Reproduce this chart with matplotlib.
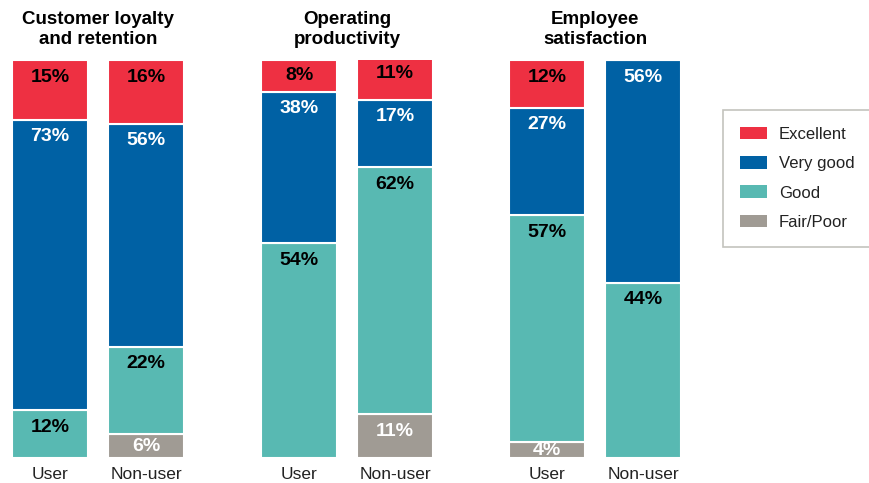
import matplotlib.pyplot as plt
from matplotlib.patches import Patch

plt.rcParams['font.family'] = ['Liberation Sans', 'DejaVu Sans']

# === Daten ===
groups = ["Customer loyalty\nand retention", "Operating\nproductivity", "Employee\nsatisfaction"]
bar_names = ["User", "Non-user"]
levels = ["Excellent", "Very good", "Good", "Fair/Poor"]

# Werte je Balken, Reihenfolge: Fair/Poor, Good, Very good, Excellent (von unten)
fair_poor = [0, 6, 0, 11, 4, 0]
good = [12, 22, 54, 62, 57, 44]
very_good = [73, 56, 38, 17, 27, 56]
excellent = [15, 16, 8, 11, 12, 0]

colors = {"Excellent": "#EE3042", "Very good": "#0061A4", "Good": "#58B9B2", "Fair/Poor": "#A09B94"}
text_col = {"Excellent": "black", "Very good": "white", "Good": "black", "Fair/Poor": "white"}

# === Layout ===
W, H = 869, 483
fig = plt.figure(figsize=(W / 100, H / 100), dpi=100)
ax = fig.add_axes([0, 25 / H, 1, 398 / H])
ax.set_xlim(0, W / 100)
ax.set_ylim(0, 100)
ax.axis('off')

group_centers = [0.98, 3.47, 5.95]
offset = 0.48
bar_w = 0.76

xs = []
for gc in group_centers:
    xs += [gc - offset, gc + offset]

stack = [("Fair/Poor", fair_poor), ("Good", good), ("Very good", very_good), ("Excellent", excellent)]
bottoms = [0] * len(xs)
for name, vals in stack:
    ax.bar(xs, vals, width=bar_w, bottom=bottoms, color=colors[name],
           edgecolor='white', linewidth=1.5)
    for x, b, v in zip(xs, bottoms, vals):
        if v <= 0:
            continue
        top = b + v
        y = max(top - 4.3, b + v / 2)
        ax.text(x, y, f"{v}%", ha='center', va='center', fontsize=14,
                fontweight='bold', color=text_col[name])
    bottoms = [b + v for b, v in zip(bottoms, vals)]

# Kategorienamen unter den Balken
for i, x in enumerate(xs):
    ax.text(x, -2.3, bar_names[i % 2], ha='center', va='top', fontsize=12.5, color='#222222',
            clip_on=False)

# Gruppentitel
for gc, title in zip(group_centers, groups):
    ax.text(gc, 103.0, title, ha='center', va='bottom', fontsize=13.5, fontweight='bold',
            linespacing=1.2, clip_on=False)

# Legende
handles = [Patch(facecolor=colors[l], edgecolor='none', label=l) for l in levels]
leg = fig.legend(handles=handles, loc='upper left', bbox_to_anchor=(723 / W, 1 - 110 / H),
                 fontsize=12, frameon=True, fancybox=False, handlelength=1.65,
                 handleheight=0.8, handletextpad=0.7, labelspacing=0.85,
                 borderpad=1.0, borderaxespad=0)
leg.get_frame().set_edgecolor('#B5B5AD')
leg.get_frame().set_linewidth(1.2)
for t in leg.get_texts():
    t.set_color('#222222')

fig.savefig('out.png', dpi=100)
